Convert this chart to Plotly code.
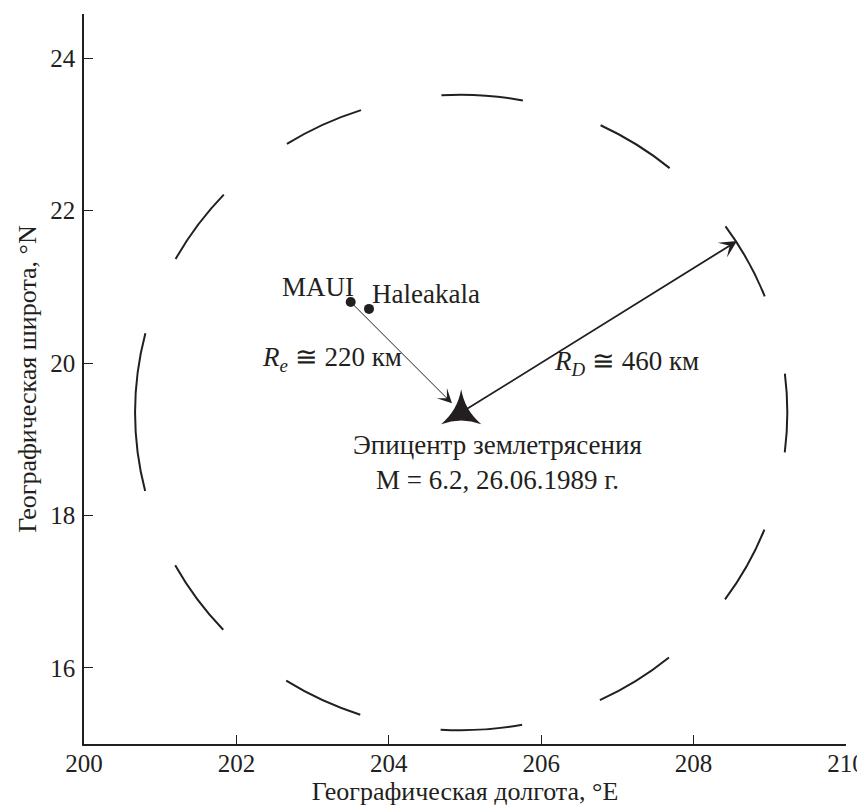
import numpy as np
import plotly.graph_objects as go

# ---------------- data ----------------
x_range = [200, 210]
y_range = [15, 24.58]
x_ticks = [200, 202, 204, 206, 208, 210]
y_ticks = [16, 18, 20, 22, 24]

station_names = ["MAUI", "Haleakala"]
station_lon = [203.50, 203.74]
station_lat = [20.80, 20.71]

epicenter_lon = [204.95]
epicenter_lat = [19.35]

rd_radius_lon = 4.28   # radius of the R_D circle, degrees of longitude
rd_radius_lat = 4.17   # radius of the R_D circle, degrees of latitude
rd_tip_lon = 208.57
rd_tip_lat = 21.60

re_label = "<i>R<sub>e</sub></i> ≅ 220 км"
rd_label = "<i>R<sub>D</sub></i> ≅ 460 км"
epi_label = "Эпицентр землетрясения<br>M = 6.2, 26.06.1989 г."
x_title = "Географическая долгота, °E"
y_title = "Географическая широта, °N"

# ---------------- style ----------------
INK = "#231f20"
FONT = "Liberation Serif, Times New Roman, serif"
# the page body adds an 8 px offset; margins compensate for it
W, H = 865, 800
ML, MR, MT, MB = 76, 27, 6, 64

kx = (W - ML - MR) / (x_range[1] - x_range[0])
ky = (H - MT - MB) / (y_range[1] - y_range[0])
rx_px = rd_radius_lon * kx
ry_px = rd_radius_lat * ky

# dash pattern of the circle (angles in degrees from the rightmost point)
half = [0, 7.2, 21.6, 36, 50.4, 64.8, 79.2, 93.6, 108, 122.4, 136.8, 151.2, 165.6]
bounds = half + [360 - b for b in reversed(half)]


def arc_len(a1, a2):
    t = np.linspace(np.radians(a1), np.radians(a2), 400)
    v = np.sqrt((rx_px * np.sin(t)) ** 2 + (ry_px * np.cos(t)) ** 2)
    return float(np.trapezoid(v, t))


dash = ",".join(f"{arc_len(a, b):.2f}px" for a, b in zip(bounds[:-1], bounds[1:]))

fig = go.Figure()

# R_D circle
fig.add_shape(
    type="circle", xref="x", yref="y",
    x0=epicenter_lon[0] - rd_radius_lon, x1=epicenter_lon[0] + rd_radius_lon,
    y0=epicenter_lat[0] - rd_radius_lat, y1=epicenter_lat[0] + rd_radius_lat,
    line=dict(color=INK, width=2, dash=dash),
)

# stations
fig.add_trace(go.Scatter(
    x=station_lon, y=station_lat, mode="markers",
    marker=dict(color=INK, size=10), showlegend=False, hoverinfo="skip",
))

# epicenter
fig.add_trace(go.Scatter(
    x=epicenter_lon, y=epicenter_lat, mode="markers",
    marker=dict(color=INK, size=29, symbol="star-triangle-up", line=dict(width=0)),
    showlegend=False, hoverinfo="skip",
))

ann_font = dict(family=FONT, size=27, color=INK)

# arrows
fig.add_annotation(
    x=epicenter_lon[0], y=epicenter_lat[0], ax=station_lon[0], ay=station_lat[0],
    xref="x", yref="y", axref="x", ayref="y", text="", showarrow=True,
    arrowhead=3, arrowsize=2.4, arrowwidth=1, arrowcolor=INK, standoff=13,
)
fig.add_annotation(
    x=rd_tip_lon, y=rd_tip_lat, ax=epicenter_lon[0], ay=epicenter_lat[0],
    xref="x", yref="y", axref="x", ayref="y", text="", showarrow=True,
    arrowhead=3, arrowsize=1.6, arrowwidth=1.8, arrowcolor=INK,
)

# station labels
fig.add_annotation(
    x=station_lon[0], y=station_lat[0], text=station_names[0], showarrow=False,
    xanchor="right", yanchor="middle", xshift=5, yshift=15, font=ann_font,
)
fig.add_annotation(
    x=station_lon[1], y=station_lat[1], text=station_names[1], showarrow=False,
    xanchor="left", yanchor="middle", xshift=1, yshift=15, font=ann_font,
)

# distance labels
fig.add_annotation(x=203.25, y=20.05, text=re_label, showarrow=False,
                   xanchor="center", yanchor="middle", font=ann_font)
fig.add_annotation(x=207.12, y=20.0, text=rd_label, showarrow=False,
                   xanchor="center", yanchor="middle", font=ann_font)

# epicenter label
fig.add_annotation(x=205.43, y=18.70, text=epi_label, showarrow=False,
                   xanchor="center", yanchor="middle", align="center", font=ann_font)

axis_common = dict(
    showline=True, linecolor=INK, linewidth=1.6, mirror=False,
    ticks="inside", ticklen=9, tickwidth=1.4, tickcolor=INK,
    showgrid=False, zeroline=False, ticklabeloverflow="allow",
    tickfont=dict(family=FONT, size=25, color=INK),
    title_font=dict(family=FONT, size=26, color=INK),
)

fig.update_xaxes(range=x_range, tickvals=x_ticks, title_text=x_title,
                 title_standoff=4, ticklabelstandoff=-4, **axis_common)
fig.update_yaxes(range=y_range, tickvals=y_ticks, title_text=y_title,
                 title_standoff=6, ticklabelstandoff=2, **axis_common)

fig.update_layout(
    width=W, height=H,
    margin=dict(l=ML, r=MR, t=MT, b=MB, autoexpand=False),
    plot_bgcolor="white", paper_bgcolor="white",
    showlegend=False,
)

fig.write_html("out.html")
